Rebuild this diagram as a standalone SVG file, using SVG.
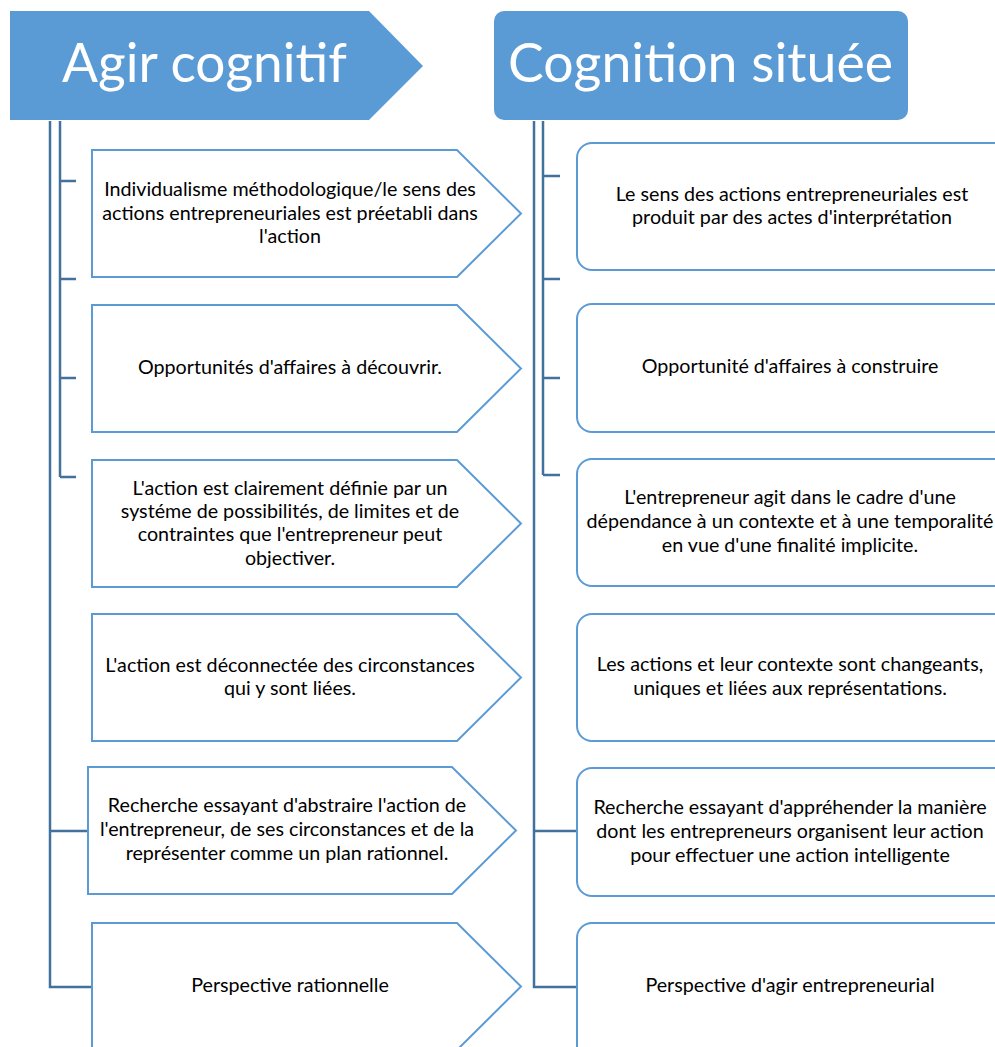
<svg xmlns="http://www.w3.org/2000/svg" width="995" height="1047" viewBox="0 0 995 1047">
  <style>
    .hdr { fill: #5B9BD5; }
    .title { font-family: Lato, "Open Sans", "Liberation Sans", sans-serif; font-size: 54px; fill: #ffffff; }
    .box { fill: #ffffff; stroke: #5B9BD5; stroke-width: 2; }
    .txt { font-family: Lato, "Open Sans", "Liberation Sans", sans-serif; font-size: 19.7px; fill: #000000; text-anchor: middle; }
    .conn { fill: none; stroke: #41719C; stroke-width: 2.5; }
  </style>

  <!-- column headers -->
  <g id="hdr-agir">
    <path class="hdr" d="M10,11 H369 L423,66 L369,120 H10 Z"/>
    <text class="title" x="62" y="82" textLength="285" lengthAdjust="spacingAndGlyphs">Agir cognitif</text>
  </g>
  <g id="hdr-cognition">
    <rect class="hdr" x="494" y="11" width="414" height="109" rx="10"/>
    <text class="title" x="508" y="82" textLength="385" lengthAdjust="spacingAndGlyphs">Cognition située</text>
  </g>

  <!-- connectors -->
  <g id="connectors">
    <path class="conn" d="M60,121 V477 M60,181 H76 M60,279 H76 M60,378 H76 M60,477 H76"/>
    <path class="conn" d="M50,121 V987 H92 M50,831 H88"/>
    <path class="conn" d="M543,121 V475 M543,176 H560 M543,279 H560 M543,378 H560 M543,475 H560"/>
    <path class="conn" d="M534,121 V987 H577 M534,831 H577"/>
  </g>

  <!-- left column -->
  <g id="l1">
    <path class="box" d="M92,150 H457 L521,213.5 L457,277 H92 Z"/>
    <text class="txt" x="290" y="196">Individualisme méthodologique/le sens des</text>
    <text class="txt" x="290" y="220">actions entrepreneuriales est préetabli dans</text>
    <text class="txt" x="290" y="243">l'action</text>
  </g>
  <g id="l2">
    <path class="box" d="M92,305 H457 L521,368.5 L457,432 H92 Z"/>
    <text class="txt" x="290" y="374">Opportunités d'affaires à découvrir.</text>
  </g>
  <g id="l3">
    <path class="box" d="M92,460 H457 L521,523.5 L457,587 H92 Z"/>
    <text class="txt" x="290" y="495">L'action est clairement définie par un</text>
    <text class="txt" x="290" y="518">systéme de possibilités, de limites et de</text>
    <text class="txt" x="290" y="541">contraintes que l'entrepreneur peut</text>
    <text class="txt" x="290" y="565">objectiver.</text>
  </g>
  <g id="l4">
    <path class="box" d="M92,614 H457 L521,677.5 L457,741 H92 Z"/>
    <text class="txt" x="290" y="672">L'action est déconnectée des circonstances</text>
    <text class="txt" x="290" y="695">qui y sont liées.</text>
  </g>
  <g id="l5">
    <path class="box" d="M88,767 H452 L516,830.5 L452,894 H88 Z"/>
    <text class="txt" x="287" y="812">Recherche essayant d'abstraire l'action de</text>
    <text class="txt" x="287" y="836">l'entrepreneur, de ses circonstances et de la</text>
    <text class="txt" x="287" y="860">représenter comme un plan rationnel.</text>
  </g>
  <g id="l6">
    <path class="box" d="M92,923 H457 L521,986.5 L457,1050 H92 Z"/>
    <text class="txt" x="290" y="992">Perspective rationnelle</text>
  </g>

  <!-- right column -->
  <g id="r1">
    <rect class="box" x="577" y="143" width="440" height="127" rx="15"/>
    <text class="txt" x="792" y="201">Le sens des actions entrepreneuriales est</text>
    <text class="txt" x="792" y="224">produit par des actes d'interprétation</text>
  </g>
  <g id="r2">
    <rect class="box" x="577" y="304" width="440" height="128" rx="15"/>
    <text class="txt" x="790" y="373">Opportunité d'affaires à construire</text>
  </g>
  <g id="r3">
    <rect class="box" x="577" y="459" width="440" height="127" rx="15"/>
    <text class="txt" x="790" y="504">L'entrepreneur agit dans le cadre d'une</text>
    <text class="txt" x="790" y="528">dépendance à un contexte et à une temporalité</text>
    <text class="txt" x="790" y="552">en vue d'une finalité implicite.</text>
  </g>
  <g id="r4">
    <rect class="box" x="577" y="614" width="440" height="127" rx="15"/>
    <text class="txt" x="790" y="671">Les actions et leur contexte sont changeants,</text>
    <text class="txt" x="790" y="695">uniques et liées aux représentations.</text>
  </g>
  <g id="r5">
    <rect class="box" x="577" y="768" width="440" height="128" rx="15"/>
    <text class="txt" x="790" y="814">Recherche essayant d'appréhender la manière</text>
    <text class="txt" x="790" y="838">dont les entrepreneurs organisent leur action</text>
    <text class="txt" x="790" y="862">pour effectuer une action intelligente</text>
  </g>
  <g id="r6">
    <rect class="box" x="577" y="923" width="440" height="140" rx="15"/>
    <text class="txt" x="790" y="992">Perspective d'agir entrepreneurial</text>
  </g>
</svg>
